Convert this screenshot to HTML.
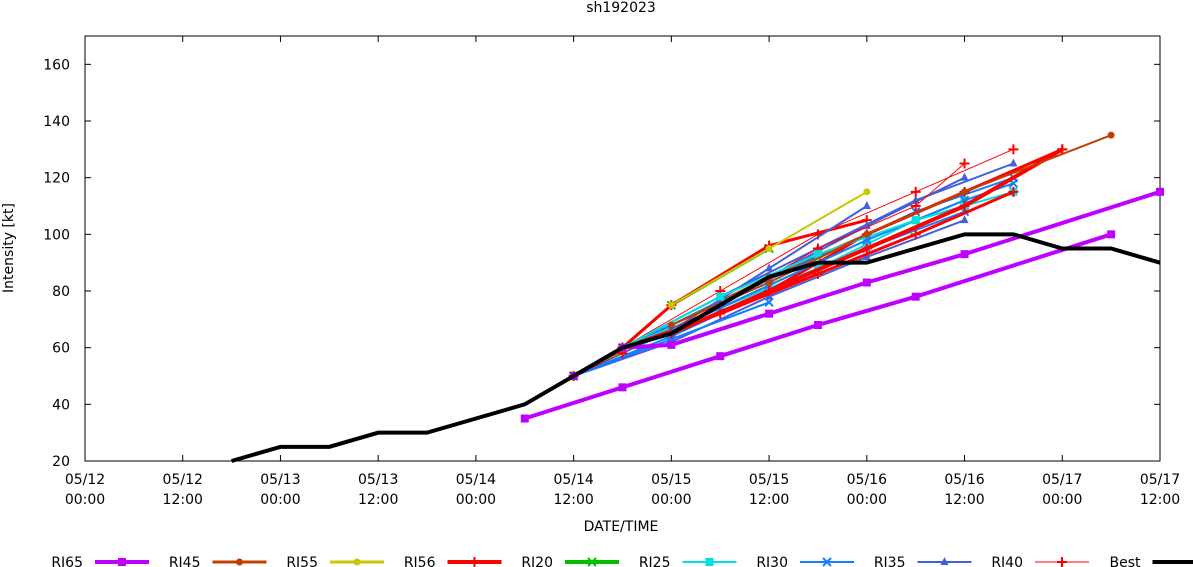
<!DOCTYPE html><html><head><style>body{margin:0;background:#fff}svg{display:block;font-family:"DejaVu Sans","Liberation Sans",sans-serif}</style></head><body>
<svg id="s" width="1193" height="567" xmlns="http://www.w3.org/2000/svg"></svg>
<script>
const s=document.getElementById('s');let o='';
const X=h=>85+h*1075/132, Y=v=>461-(v-20)*425/150;
o+='<rect x="85" y="36" width="1075" height="425" fill="none" stroke="#000"/>';
o+='<text x="621" y="12" font-size="14" text-anchor="middle">sh192023</text>';
for(let v=20;v<=160;v+=20){const y=Y(v);o+=`<line x1="85" x2="91" y1="${y}" y2="${y}" stroke="#000"/><line x1="1154" x2="1160" y1="${y}" y2="${y}" stroke="#000"/><text x="70" y="${y+5}" font-size="14" text-anchor="end">${v}</text>`;}
const d=['05/12','05/12','05/13','05/13','05/14','05/14','05/15','05/15','05/16','05/16','05/17','05/17'];
for(let i=0;i<12;i++){const x=X(i*12);o+=`<line x1="${x}" x2="${x}" y1="455" y2="461" stroke="#000"/><line x1="${x}" x2="${x}" y1="36" y2="42" stroke="#000"/><text x="${x}" y="484" font-size="14" text-anchor="middle">${d[i]}</text><text x="${x}" y="504" font-size="14" text-anchor="middle">${i%2?'12:00':'00:00'}</text>`;}
o+='<text x="621" y="531" font-size="14" text-anchor="middle">DATE/TIME</text>';
o+='<text x="13" y="248" font-size="14" text-anchor="middle" transform="rotate(-90 13 248)">Intensity [kt]</text>';
function mk(t,x,y,c){if(t=='sq')return `<rect x="${x-4}" y="${y-4}" width="8" height="8" fill="${c}"/>`;
if(t=='ci')return `<circle cx="${x}" cy="${y}" r="3.5" fill="${c}"/>`;
if(t=='pl')return `<path d="M${x-5} ${y}H${x+5}M${x} ${y-5}V${y+5}" stroke="${c}" stroke-width="2"/>`;
if(t=='x')return `<path d="M${x-4} ${y-4}L${x+4} ${y+4}M${x+4} ${y-4}L${x-4} ${y+4}" stroke="${c}" stroke-width="2"/>`;
if(t=='tr')return `<path d="M${x} ${y-5}L${x+4} ${y+3}H${x-4}Z" fill="${c}"/>`;return'';}
function ser(p,c,w,t){o+=`<polyline points="${p.map(a=>X(a[0])+','+Y(a[1])).join(' ')}" fill="none" stroke="${c}" stroke-width="${w}"/>`;p.forEach(a=>o+=mk(t,X(a[0]),Y(a[1]),c));}
const S=[['#00c000',3,'x'],['#ff0000',3,'pl'],['#c8c800',2,'ci'],['#c04000',2,'ci'],['#00e0e0',2,'sq'],['#1080ff',2,'x'],['#4060e0',2,'tr'],['#ff0000',1,'pl']];
const F=[
[[60,50],[66,60],[72,75],[84,95]],[[60,50],[66,60],[72,75],[84,96],[96,105]],[[72,75],[84,95],[96,115]],
[[60,50],[72,68],[84,85],[96,100],[108,115]],[[60,50],[72,66],[84,82],[96,98],[108,112]],[[60,50],[72,64],[84,80],[96,95],[108,108]],
[[60,50],[72,62],[84,78],[96,92],[108,105]],[[60,50],[72,63],[84,76]],[[66,60],[78,78],[90,95],[102,112],[114,125]],
[[66,60],[78,80],[90,100],[102,115],[114,130]],[[66,60],[78,76],[90,92],[102,108],[114,120]],[[66,60],[78,74],[90,88],[102,105],[114,115]],
[[66,60],[78,72],[90,86],[102,100],[114,115]],[[72,65],[84,85],[96,103],[108,120]],[[72,66],[84,88],[96,110]],[[60,50],[66,58],[78,75],[90,95],[102,110],[108,125]],
[[72,65],[84,80],[96,100],[108,115],[120,130]],[[72,66],[84,82],[96,98],[108,112],[114,118]],[[66,60],[78,78],[90,93],[102,105],[108,110]]];
const cm=[0,1,2,3,4,5,6,5,6,7,5,4,1,6,6,7,1,5,4];
F.forEach((p,i)=>{const z=S[cm[i]];ser(p,z[0],z[1],z[2]);});
ser([[72,65],[84,80],[96,95],[108,110],[120,130]],'#ff0000',4,'pl');
ser([[72,68],[84,83],[96,100],[108,115],[126,135]],'#c04000',2,'ci');
ser([[60,50],[66,60],[72,61],[84,72],[96,83],[108,93],[132,115]],'#c000ff',4,'sq');
ser([[54,35],[66,46],[78,57],[90,68],[102,78],[126,100]],'#c000ff',4,'sq');
ser([[18,20],[24,25],[30,25],[36,30],[42,30],[48,35],[54,40],[60,50],[66,60],[72,65],[78,75],[84,85],[90,90],[96,90],[102,95],[108,100],[114,100],[120,95],[126,95],[132,90]],'#000',4,'');
const L=[['RI65','#c000ff',4,'sq'],['RI45','#c04000',3,'ci'],['RI55','#c8c800',3,'ci'],['RI56','#ff0000',4,'pl'],['RI20','#00c000',4,'x'],['RI25','#00e0e0',2,'sq'],['RI30','#1080ff',2,'x'],['RI35','#4060e0',2,'tr'],['RI40','#ff0000',1,'pl'],['Best','#000',4,'']];
L.forEach((l,i)=>{const x=90+i*117.5;o+=`<text x="${x-7}" y="567" font-size="14" text-anchor="end">${l[0]}</text><line x1="${x+5}" x2="${x+59}" y1="562" y2="562" stroke="${l[1]}" stroke-width="${l[2]}"/>`+mk(l[3],x+32,562,l[1]);});
s.innerHTML=o;
</script></body></html>
